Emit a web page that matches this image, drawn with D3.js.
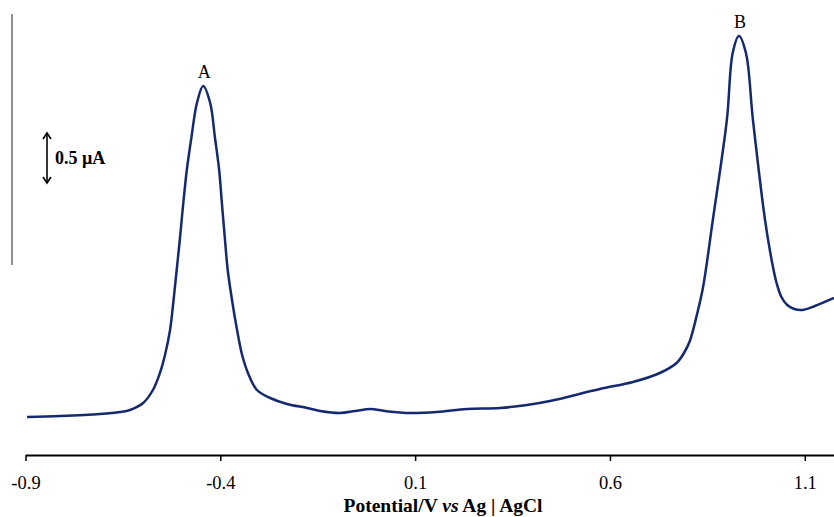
<!DOCTYPE html>
<html>
<head>
<meta charset="utf-8">
<script src="https://cdn.jsdelivr.net/npm/d3@7"></script>
<style>
  body { margin: 0; background: #fff; }
  svg { display: block; }
  text { font-family: "Liberation Serif", "DejaVu Serif", serif; }
</style>
</head>
<body>
<div id="wrapper"></div>
<script>
// potential (V vs Ag|AgCl) and current (uA, relative)
const potential = [-0.896, -0.811, -0.709, -0.657, -0.632, -0.598, -0.573, -0.555, -0.542, -0.529,
  -0.520, -0.512, -0.504, -0.495, -0.486, -0.474, -0.460, -0.444, -0.426, -0.414,
  -0.403, -0.396, -0.388, -0.381, -0.370, -0.357, -0.344, -0.329, -0.306, -0.272,
  -0.229, -0.177, -0.144, -0.093, -0.054, -0.015, 0.023, 0.087, 0.156, 0.233,
  0.318, 0.387, 0.446, 0.574, 0.659, 0.728, 0.771, 0.790, 0.805, 0.823,
  0.839, 0.864, 0.900, 0.915, 0.931, 0.949, 0.967, 0.998, 1.014, 1.027,
  1.040, 1.055, 1.073, 1.093, 1.126, 1.175];
const current = [0.38, 0.39, 0.41, 0.43, 0.45, 0.52, 0.65, 0.82, 1.00, 1.25,
  1.55, 1.85, 2.15, 2.52, 2.85, 3.18, 3.52, 3.69, 3.52, 3.18,
  2.85, 2.52, 2.15, 1.85, 1.55, 1.25, 1.00, 0.82, 0.65, 0.57,
  0.51, 0.47, 0.44, 0.42, 0.44, 0.46, 0.44, 0.42, 0.43, 0.46,
  0.47, 0.50, 0.54, 0.66, 0.73, 0.82, 0.92, 1.02, 1.14, 1.40,
  1.68, 2.35, 3.35, 4.02, 4.19, 4.02, 3.35, 2.35, 1.97, 1.73,
  1.58, 1.50, 1.46, 1.45, 1.49, 1.57];
const xTicks = [-0.9, -0.4, 0.1, 0.6, 1.1];
const peakNames = ["A", "B"];
const peakPotential = [-0.444, 0.931];
const peakCurrent = [3.69, 4.19];
const scaleBar = [0.5]; // uA

const data = potential.map((p, i) => ({p: p, c: current[i]}));

const width = 834, height = 517;
const svg = d3.select("#wrapper").append("svg")
  .attr("width", width)
  .attr("height", height);

const xScale = d3.scaleLinear()
  .domain([-0.9, 1.175])
  .range([25.5, 834]);

const yScale = d3.scaleLinear()
  .domain([0, 4.4])
  .range([455, 15]);

// left vertical line (current axis remnant)
svg.append("line")
  .attr("x1", 12).attr("x2", 12)
  .attr("y1", yScale(4.41)).attr("y2", yScale(1.9))
  .attr("stroke", "#6b6b6b")
  .attr("stroke-width", 1.5);

// x axis
const xAxis = svg.append("g")
  .attr("transform", `translate(0,${yScale(0)})`)
  .call(d3.axisBottom(xScale).tickValues(xTicks).tickSize(6).tickSizeOuter(0));
xAxis.select(".domain").attr("stroke", "#000").attr("stroke-width", 2);
xAxis.selectAll(".tick line").attr("stroke", "#000").attr("stroke-width", 1.5);
xAxis.selectAll(".tick text")
  .attr("y", 20)
  .attr("dy", "0.75em")
  .style("font-family", "'Liberation Serif', serif")
  .style("font-size", "18.5px")
  .attr("fill", "#000")
  .text(d => d3.format(".1f")(d).replace("−", "-"));

// axis title
const title = svg.append("text")
  .attr("x", 443)
  .attr("y", 512)
  .attr("text-anchor", "middle")
  .style("font-size", "19.5px")
  .style("font-weight", "bold");
title.append("tspan").text("Potential/V ");
title.append("tspan").style("font-style", "italic").text("vs");
title.append("tspan").text(" Ag | AgCl");

// curve
const line = d3.line()
  .x(d => xScale(d.p))
  .y(d => yScale(d.c))
  .curve(d3.curveCatmullRom.alpha(0.5));

svg.append("path")
  .datum(data)
  .attr("d", line)
  .attr("fill", "none")
  .attr("stroke", "#152a6e")
  .attr("stroke-width", 2.5);

// peak labels
svg.selectAll(".peak")
  .data(peakNames)
  .join("text")
  .attr("class", "peak")
  .attr("x", (d, i) => xScale(peakPotential[i]) + 1)
  .attr("y", (d, i) => yScale(peakCurrent[i]) - 8)
  .attr("text-anchor", "middle")
  .style("font-size", "18px")
  .text(d => d);

// scale bar
const barX = 47;
const barTop = 133;
const barBottom = barTop + (yScale(0) - yScale(scaleBar[0]));
const bar = svg.append("g")
  .attr("stroke", "#000")
  .attr("stroke-width", 1.6)
  .attr("fill", "none");
bar.append("line").attr("x1", barX).attr("x2", barX).attr("y1", barTop + 1).attr("y2", barBottom - 1);
bar.append("path").attr("d", `M${barX - 4},${barTop + 6}L${barX},${barTop}L${barX + 4},${barTop + 6}`);
bar.append("path").attr("d", `M${barX - 4},${barBottom - 6}L${barX},${barBottom}L${barX + 4},${barBottom - 6}`);

svg.append("text")
  .attr("x", 55)
  .attr("y", 164)
  .style("font-size", "18px")
  .style("font-weight", "bold")
  .text(scaleBar[0] + " µA");
</script>
</body>
</html>
